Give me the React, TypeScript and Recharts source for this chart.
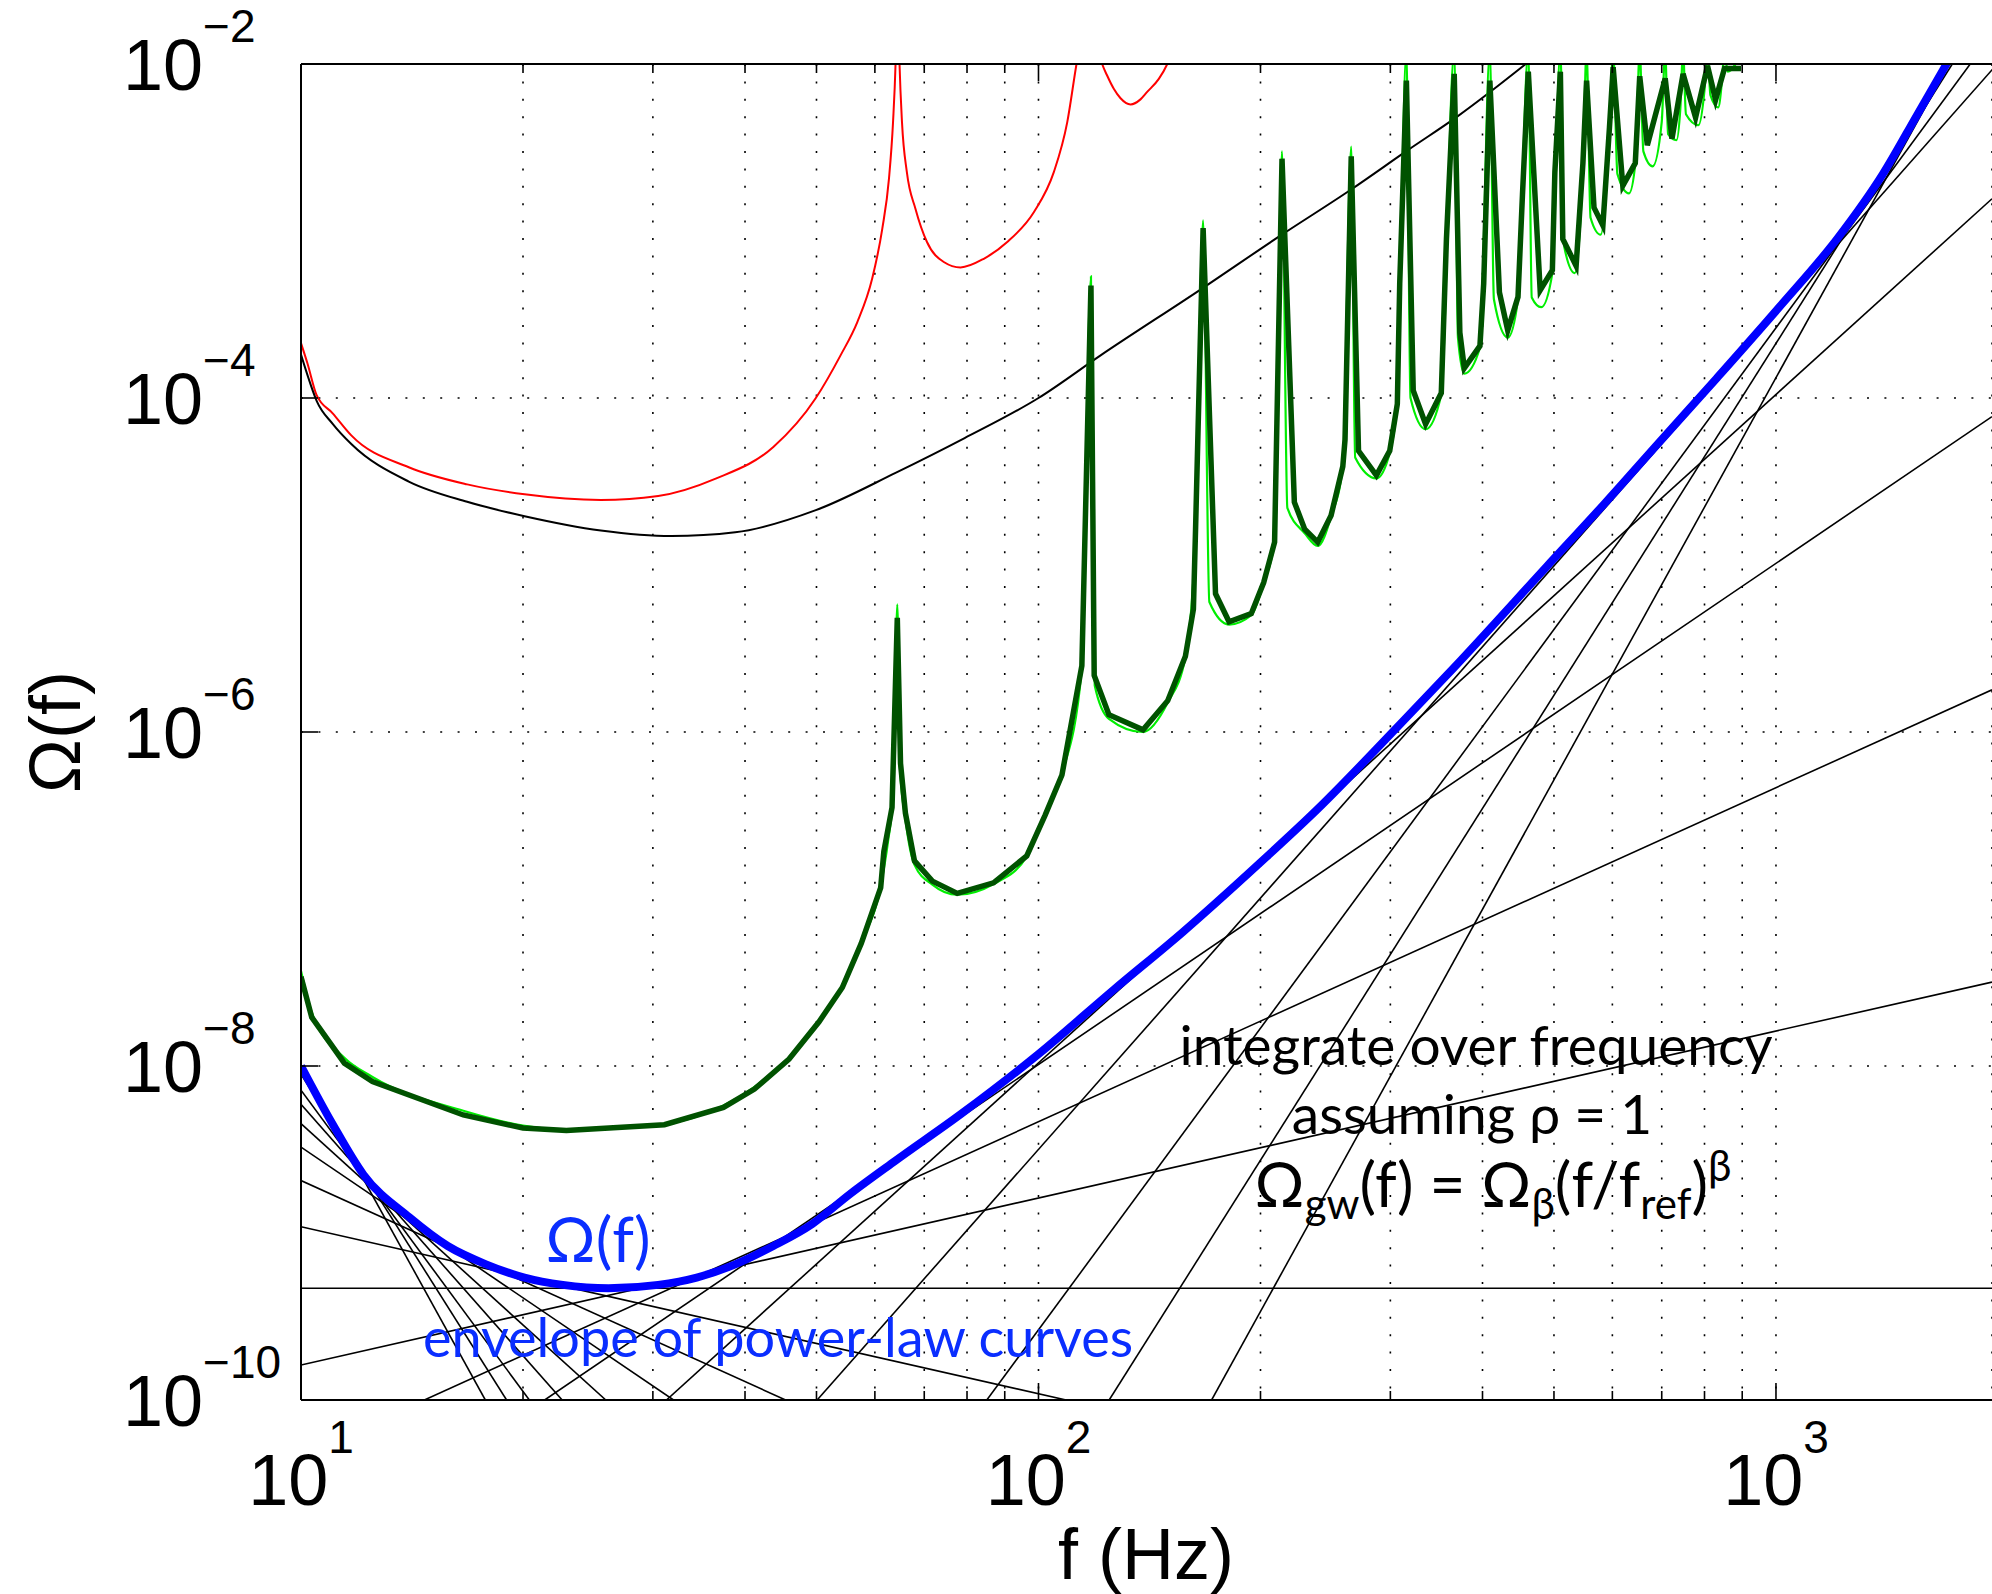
import React from "react";
import { LineChart, Line, XAxis, YAxis, CartesianGrid } from "recharts";

const W = 1992;
const H = 1594;
const AXIS_FONT = "'Liberation Sans', Arial, Helvetica, sans-serif";
const ANNOT_FONT = "Lato, 'Noto Sans', sans-serif";

// ---- axes ----
const X_DOMAIN: [number, number] = [10, 1963];
const Y_DOMAIN: [number, number] = [1e-10, 1e-2];
const X_TICKS = [10, 20, 30, 40, 50, 60, 70, 80, 90, 100, 200, 300, 400, 500, 600, 700, 800, 900, 1000];
const X_MAJOR = [10, 100, 1000];
const X_TICK_LABELS = ["1", "2", "3"];
const Y_TICKS = [1e-10, 1e-8, 1e-6, 1e-4, 1e-2];
const Y_TICK_LABELS = ["\u221210", "\u22128", "\u22126", "\u22124", "\u22122"];

// ---- red curve ----
const RED_F = [10, 10.2, 10.5, 11.04, 11.7, 14.0, 16.8, 20.1, 25.5, 30.5, 36.5, 43.7, 49.9, 53.9, 56.8, 59.5, 61.4, 62.7, 63.5, 64.0, 64.4, 64.8, 65.3, 66.3, 68.1, 70.6, 74.4, 78.4, 84.3, 90.7, 98.6, 104.9, 109.4, 112.6, 117, 122, 123.9, 126.5, 129.2, 133.3, 137.5, 140.3, 145.6, 149.5, 155];
const RED_V = [2.13e-4, 1.62e-4, 1.04e-4, 8.1e-5, 5.97e-5, 3.85e-5, 3.04e-5, 2.65e-5, 2.45e-5, 2.59e-5, 3.29e-5, 5.09e-5, 1.0e-4, 1.8e-4, 2.85e-4, 5.19e-4, 1.03e-3, 2.06e-3, 4.49e-3, 1.0e-2, 3.2e-2, 1.0e-2, 4.49e-3, 2.25e-3, 1.36e-3, 8.59e-4, 6.52e-4, 6.05e-4, 6.82e-4, 8.59e-4, 1.3e-3, 2.25e-3, 4.49e-3, 1.0e-2, 2.5e-2, 1.0e-2, 8.53e-3, 7.11e-3, 6.24e-3, 5.73e-3, 6.14e-3, 6.78e-3, 8.15e-3, 1.0e-2, 1.6e-2];

// ---- black curve ----
const BLACK_F = [10, 10.2, 10.5, 11.04, 11.7, 14.0, 16.8, 20.1, 25.5, 31.8, 38.8, 49.9, 64.0, 79.4, 100, 121.4, 167, 211.8, 264.8, 317.5, 370, 456, 520];
const BLACK_V = [1.82e-4, 1.38e-4, 9.62e-5, 7.0e-5, 5.3e-5, 3.16e-5, 2.39e-5, 1.96e-5, 1.61e-5, 1.49e-5, 1.57e-5, 2.13e-5, 3.56e-5, 5.75e-5, 1.0e-4, 1.8e-4, 4.55e-4, 9.25e-4, 1.76e-3, 3.07e-3, 4.86e-3, 9.86e-3, 1.58e-2];

// ---- dark green curve ----
const DKGREEN_F = [10, 10.34, 11.45, 12.5, 16.6, 20.0, 22.9, 31.1, 37.4, 41.2, 45.9, 50.4, 54.2, 57.5, 61.1, 61.7, 63.3, 64.35, 65.0, 66.0, 67.9, 71.8, 77.6, 86.9, 96.4, 102.1, 107.6, 114.5, 117.8, 119.0, 124.6, 138.6, 149.7, 158.2, 162.2, 163.3, 167.2, 173.8, 181.3, 194.3, 202.0, 209.0, 213.9, 222.3, 229.6, 239.1, 249.3, 258.6, 260.4, 265.5, 271.6, 287.2, 299.4, 306.6, 308.9, 315.4, 322.2, 334.9, 351.7, 357.4, 366.2, 372.7, 377.9, 396.8, 401.5, 409.3, 421.7, 432.8, 446.9, 453.2, 461.5, 478.9, 497.5, 501.4, 510.1, 514.0, 535.8, 547.3, 553.6, 566.6, 582.5, 594.6, 601.5, 619.9, 644.5, 653.5, 669.2, 707.6, 722.7, 748.2, 778.0, 807.6, 828.2, 851.4, 897];
const DKGREEN_V = [3.42e-8, 1.96e-8, 1.04e-8, 8.07e-9, 5.09e-9, 4.25e-9, 4.11e-9, 4.45e-9, 5.65e-9, 7.28e-9, 1.1e-8, 1.84e-8, 2.95e-8, 5.42e-8, 1.17e-7, 1.92e-7, 3.53e-7, 4.82e-6, 6.49e-7, 3.27e-7, 1.69e-7, 1.28e-7, 1.08e-7, 1.25e-7, 1.81e-7, 3.18e-7, 5.53e-7, 2.49e-6, 4.72e-4, 2.18e-6, 1.27e-6, 1.03e-6, 1.54e-6, 2.84e-6, 5.43e-6, 1.64e-5, 1.04e-3, 6.73e-6, 4.57e-6, 5.11e-6, 7.85e-6, 1.37e-5, 2.71e-3, 2.38e-5, 1.64e-5, 1.37e-5, 1.98e-5, 3.89e-5, 5.62e-5, 2.8e-3, 4.82e-5, 3.44e-5, 4.82e-5, 9.2e-5, 4.84e-4, 7.96e-3, 1.11e-4, 6.97e-5, 1.07e-4, 8.95e-4, 8.73e-3, 2.46e-4, 1.51e-4, 2.05e-4, 4.84e-4, 7.96e-3, 4.29e-4, 2.54e-4, 4.03e-4, 1.66e-3, 8.99e-3, 4.42e-4, 5.82e-4, 2.25e-3, 8.99e-3, 8.95e-4, 6.19e-4, 2.55e-3, 7.96e-3, 1.38e-3, 1.08e-3, 4.17e-3, 9.57e-3, 1.87e-3, 2.55e-3, 8.45e-3, 3.26e-3, 8.2e-3, 3.57e-3, 8.73e-3, 4.78e-3, 9.75e-3, 6.11e-3, 9.4e-3, 9.4e-3];

// ---- light green curve ----
const LTGREEN_F = [10, 10.34, 11.45, 12.5, 16.6, 20.0, 22.9, 31.1, 37.4, 41.2, 45.9, 50.4, 54.2, 57.5, 61.1, 62.5, 63.6, 64.35, 64.9, 66.0, 67.9, 71.8, 77.6, 86.9, 96.4, 102.1, 107.6, 114.5, 117.8, 119.2, 124.6, 138.6, 149.7, 158.2, 163.3, 167.2, 170.5, 181.3, 194.3, 202.0, 209.0, 213.9, 217.5, 229.6, 239.1, 249.3, 258.6, 265.5, 268.8, 287.2, 299.4, 306.6, 315.4, 319.5, 334.9, 351.7, 366.2, 370.5, 377.9, 396.8, 409.3, 414.5, 432.8, 446.9, 461.5, 466.5, 480.5, 497.5, 510.1, 516.5, 533.5, 547.3, 553.6, 560.5, 578.5, 594.6, 601.5, 609.5, 632.0, 645.0, 653.5, 661.0, 680.5, 700.0, 707.6, 714.0, 733.0, 742.0, 748.2, 755.0, 785.0, 800.0, 807.6, 815.0, 835.0, 845.0, 851.4, 860.0, 900];
const LTGREEN_V = [3.71e-8, 2.1e-8, 1.12e-8, 8.6e-9, 5.4e-9, 4.4e-9, 4.15e-9, 4.5e-9, 5.8e-9, 7.5e-9, 1.13e-8, 1.88e-8, 3.0e-8, 5.5e-8, 1.2e-7, 2.2e-7, 4.5e-7, 5.81e-6, 6.0e-7, 3.0e-7, 1.6e-7, 1.22e-7, 1.06e-7, 1.23e-7, 1.8e-7, 3.2e-7, 5.6e-7, 2.4e-6, 5.35e-4, 1.9e-6, 1.2e-6, 1.0e-6, 1.5e-6, 2.8e-6, 1.5e-5, 1.16e-3, 6.0e-6, 4.4e-6, 5.0e-6, 7.8e-6, 1.4e-5, 3.01e-3, 2.2e-5, 1.55e-5, 1.3e-5, 1.95e-5, 3.9e-5, 3.2e-3, 4.4e-5, 3.3e-5, 4.7e-5, 9.5e-5, 1.2e-2, 1.0e-4, 6.5e-5, 1.05e-4, 1.2e-2, 2.3e-4, 1.4e-4, 2.0e-4, 1.2e-2, 3.9e-4, 2.3e-4, 3.9e-4, 1.2e-2, 4.0e-4, 3.5e-4, 5.6e-4, 1.2e-2, 8.0e-4, 5.6e-4, 2.4e-3, 1.2e-2, 1.2e-3, 9.5e-4, 4.0e-3, 1.2e-2, 2.2e-3, 1.68e-3, 2.6e-3, 1.2e-2, 3.0e-3, 2.44e-3, 4.5e-3, 1.2e-2, 3.8e-3, 3.5e-3, 5.5e-3, 1.2e-2, 5.0e-3, 4.3e-3, 7.0e-3, 1.2e-2, 6.5e-3, 5.5e-3, 8.0e-3, 1.2e-2, 9.0e-3, 1.2e-2];

// ---- envelope (blue) ----
const BLUE_F = [10, 11.04, 12.15, 14.03, 15.81, 17.82, 20.09, 22.65, 26.12, 30.5, 34.4, 38.8, 43.7, 49.3, 55.5, 63.9, 78.5, 99.8, 126.7, 157, 199.5, 238.8, 309.7, 365, 488.6, 586, 693, 832, 1011, 1214, 1396, 1556, 1714];
const BLUE_V = [1.0e-8, 4.48e-9, 2.24e-9, 1.24e-9, 8.36e-10, 6.49e-10, 5.41e-10, 4.89e-10, 4.67e-10, 4.89e-10, 5.41e-10, 6.49e-10, 8.36e-10, 1.13e-9, 1.71e-9, 2.7e-9, 5.16e-9, 1.17e-8, 2.88e-8, 6.35e-8, 1.64e-7, 3.44e-7, 1.12e-6, 2.4e-6, 9.77e-6, 2.34e-5, 5.37e-5, 1.32e-4, 3.51e-4, 9.12e-4, 2.19e-3, 5.01e-3, 1.05e-2];

// ---- power-law lines (beta, two end points each) ----
const PL_BETA = [-8, -7, -6, -5, -4, -3, -2, -1, 0, 1, 2, 3, 4, 5, 6, 7, 8];
const PL_F_START = [10, 10, 10, 10, 10, 10, 10, 10, 10, 10, 14.7, 21.4, 31.3, 50.1, 85.1, 124.7, 171.7];
const PL_V_START = [1.0e-8, 8.91e-9, 7.16e-9, 5.89e-9, 4.52e-9, 3.27e-9, 2.06e-9, 1.09e-9, 4.67e-10, 1.62e-10, 1e-10, 1e-10, 1e-10, 1e-10, 1e-10, 1e-10, 1e-10];
const PL_F_END = [17.78, 19.0, 20.4, 22.6, 25.9, 32.0, 45.4, 109, 1963, 1963, 1963, 1963, 1963, 1995, 1834, 1734, 1717];
const PL_V_END = [1e-10, 1e-10, 1e-10, 1e-10, 1e-10, 1e-10, 1e-10, 1e-10, 4.67e-10, 3.18e-8, 1.79e-6, 7.74e-5, 1.56e-3, 1e-2, 1e-2, 1e-2, 1e-2];

const zip = (fs: number[], vs: number[]) => fs.map((f, i) => ({ f, v: vs[i] }));
const RED = zip(RED_F, RED_V);
const BLACK = zip(BLACK_F, BLACK_V);
const DKGREEN = zip(DKGREEN_F, DKGREEN_V);
const LTGREEN = zip(LTGREEN_F, LTGREEN_V);
const BLUE = zip(BLUE_F, BLUE_V);
const POWER_LINES = PL_BETA.map((b, i) => ({
  beta: b,
  data: [
    { f: PL_F_START[i], v: PL_V_START[i] },
    { f: PL_F_END[i], v: PL_V_END[i] },
  ],
}));

const near = (a: number, b: number) => Math.abs(Math.log10(a) - Math.log10(b)) < 1e-6;

function BottomTick(props: any) {
  const { x, y, payload } = props;
  const i = X_MAJOR.findIndex((t) => near(t, payload.value));
  const major = i >= 0;
  return (
    <g>
      <line x1={x} x2={x} y1={y} y2={y - (major ? 17 : 9)} stroke="#000" strokeWidth={1.6} />
      {major && (
        <text x={x} y={y + 105} textAnchor="middle" fontFamily={AXIS_FONT} fontSize={72} fill="#000">
          10
          <tspan dy={-52} fontSize={46}>
            {X_TICK_LABELS[i]}
          </tspan>
        </text>
      )}
    </g>
  );
}

function TopTick(props: any) {
  const { x, y, payload } = props;
  const major = X_MAJOR.some((t) => near(t, payload.value));
  return <line x1={x} x2={x} y1={y} y2={y + (major ? 17 : 9)} stroke="#000" strokeWidth={1.6} />;
}

function LeftTick(props: any) {
  const { x, y, payload } = props;
  const i = Y_TICKS.findIndex((t) => near(t, payload.value));
  const inner = i > 0 && i < Y_TICKS.length - 1;
  return (
    <g>
      {inner && <line x1={x} x2={x + 17} y1={y} y2={y} stroke="#000" strokeWidth={1.6} />}
      <text x={x - 178} y={y + 26} textAnchor="start" fontFamily={AXIS_FONT} fontSize={72} fill="#000">
        10
        <tspan dy={-48} fontSize={46}>
          {Y_TICK_LABELS[i]}
        </tspan>
      </text>
    </g>
  );
}

export default function App() {
  return (
    <div style={{ position: "relative", width: W, height: H, background: "#fff" }}>
      <style>{`html,body{margin:0;padding:0;background:#fff;overflow:hidden}`}</style>
      <LineChart width={W} height={H} margin={{ top: 0, right: 0, bottom: 0, left: 0 }}>
        <CartesianGrid stroke="#000" strokeWidth={1.6} strokeDasharray="2 15.4" />
        <XAxis
          dataKey="f"
          type="number"
          scale="log"
          domain={X_DOMAIN}
          allowDataOverflow
          ticks={X_TICKS}
          interval={0}
          height={194}
          tickSize={0}
          tickMargin={0}
          tickLine={false}
          tick={<BottomTick />}
          axisLine={{ stroke: "#000", strokeWidth: 2.2 }}
        />
        <XAxis
          xAxisId="top"
          orientation="top"
          dataKey="f"
          type="number"
          scale="log"
          domain={X_DOMAIN}
          allowDataOverflow
          ticks={X_TICKS}
          interval={0}
          height={64}
          tickSize={0}
          tickMargin={0}
          tickLine={false}
          tick={<TopTick />}
          axisLine={{ stroke: "#000", strokeWidth: 2.2 }}
        />
        <YAxis
          dataKey="v"
          type="number"
          scale="log"
          domain={Y_DOMAIN}
          allowDataOverflow
          ticks={Y_TICKS}
          interval={0}
          width={301}
          tickSize={0}
          tickMargin={0}
          tickLine={false}
          tick={<LeftTick />}
          axisLine={{ stroke: "#000", strokeWidth: 2 }}
        />
        <Line data={RED} dataKey="v" type="monotone" stroke="#ff0000" strokeWidth={2} dot={false} activeDot={false} isAnimationActive={false} />
        <Line data={BLACK} dataKey="v" type="monotone" stroke="#000" strokeWidth={2} dot={false} activeDot={false} isAnimationActive={false} />
        {POWER_LINES.map((pl) => (
          <Line
            key={pl.beta}
            data={pl.data}
            dataKey="v"
            type="linear"
            stroke="#000"
            strokeWidth={1.6}
            dot={false}
            activeDot={false}
            isAnimationActive={false}
          />
        ))}
        <Line data={LTGREEN} dataKey="v" type="monotone" stroke="#00ee00" strokeWidth={2.2} dot={false} activeDot={false} isAnimationActive={false} />
        <Line data={DKGREEN} dataKey="v" type="linear" stroke="#005200" strokeWidth={5.5} dot={false} activeDot={false} isAnimationActive={false} />
        <Line data={BLUE} dataKey="v" type="monotone" stroke="#0000ff" strokeWidth={8} dot={false} activeDot={false} isAnimationActive={false} />
      </LineChart>
      <svg width={W} height={H} style={{ position: "absolute", left: 0, top: 0, pointerEvents: "none" }}>
        <text x={1146} y={1579} textAnchor="middle" fontFamily={AXIS_FONT} fontSize={72} fill="#000">
          f (Hz)
        </text>
        <text x={80} y={732} transform="rotate(-90 80 732)" textAnchor="middle" fontFamily={AXIS_FONT} fontSize={72} fill="#000">
          Ω(f)
        </text>
        <text x={1476} y={1065} textAnchor="middle" fontFamily={ANNOT_FONT} fontSize={55} fill="#000">
          integrate over frequency
        </text>
        <text x={1472} y={1134} textAnchor="middle" fontFamily={ANNOT_FONT} fontSize={55} fill="#000">
          assuming ρ = 1
        </text>
        <text x={1493} y={1207} textAnchor="middle" fontFamily={ANNOT_FONT} fontSize={62} fill="#000">
          Ω
          <tspan dy={12} fontSize={42}>gw</tspan>
          <tspan dy={-12}>(f) = Ω</tspan>
          <tspan dy={12} fontSize={42}>β</tspan>
          <tspan dy={-12}>(f/f</tspan>
          <tspan dy={12} fontSize={42}>ref</tspan>
          <tspan dy={-12}>)</tspan>
          <tspan dy={-26} fontSize={42}>β</tspan>
        </text>
        <text x={598} y={1262} textAnchor="middle" fontFamily={ANNOT_FONT} fontSize={62} fill="#0a2eff">
          Ω(f)
        </text>
        <text x={778} y={1357} textAnchor="middle" fontFamily={ANNOT_FONT} fontSize={54} fill="#0a2eff">
          envelope of power-law curves
        </text>
      </svg>
    </div>
  );
}
